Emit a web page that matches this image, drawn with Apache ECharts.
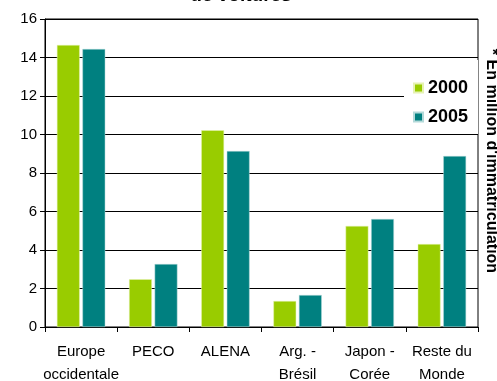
<!DOCTYPE html>
<html><head><meta charset="utf-8">
<script src="https://cdn.jsdelivr.net/npm/echarts@6/dist/echarts.min.js"></script>
<style>html,body{margin:0;padding:0;background:#fff}#c{width:497px;height:381px}</style>
</head><body><div id="c"></div>
<script>
const categories = ['Europe\noccidentale', 'PECO', 'ALENA', 'Arg. -\nBrésil', 'Japon -\nCorée', 'Reste du\nMonde'];
const seriesNames = ['2000', '2005'];
const values2000 = [14.65, 2.48, 10.22, 1.35, 5.25, 4.31];
const values2005 = [14.44, 3.27, 9.14, 1.66, 5.61, 8.88];
const yTicks = [0, 2, 4, 6, 8, 10, 12, 14, 16];
const titleText = 'de voitures';
const sideNote = "* En million d'immatriculation";

const chart = echarts.init(document.getElementById('c'), null, {renderer: 'canvas'});
const font = 'Arial, "Liberation Sans", sans-serif';
chart.setOption({
  animation: false,
  backgroundColor: '#fff',
  textStyle: {fontFamily: font},
  grid: {left: 45, right: 19, top: 19, bottom: 54, containLabel: false, outerBoundsMode: 'none',
         show: true, borderColor: '#000', borderWidth: 1, backgroundColor: 'transparent'},
  legend: {
    orient: 'vertical', left: 404, top: 60,
    data: seriesNames,
    icon: 'rect', itemWidth: 9, itemHeight: 9, itemGap: 11,
    backgroundColor: '#fff',
    padding: [19, 10, 8, 9],
    textStyle: {fontSize: 18, fontWeight: 'bold', color: '#000', fontFamily: font}
  },
  xAxis: {
    type: 'category', data: categories,
    axisLine: {show: true, lineStyle: {color: '#000'}},
    axisTick: {show: true, length: 5, lineStyle: {color: '#000'}},
    axisLabel: {fontSize: 15, color: '#000', lineHeight: 23, margin: 13, interval: 0, fontFamily: font}
  },
  yAxis: {
    type: 'value', min: yTicks[0], max: yTicks[yTicks.length - 1], interval: 2,
    axisLine: {show: true, lineStyle: {color: '#000'}},
    axisTick: {show: true, length: 5, lineStyle: {color: '#000'}},
    axisLabel: {fontSize: 15, color: '#000', margin: 8, fontFamily: font},
    splitLine: {show: true, lineStyle: {color: '#000', width: 1}}
  },
  series: [
    {name: seriesNames[0], type: 'bar', data: values2000, barGap: '12%', barCategoryGap: '33%',
     itemStyle: {color: '#99CC00', borderColor: '#e6f2b3', borderWidth: 0.5}},
    {name: seriesNames[1], type: 'bar', data: values2005,
     itemStyle: {color: '#008080', borderColor: '#b3d9d9', borderWidth: 0.5}}
  ],
  graphic: [
    {type: 'text', x: 241, y: 5, z: 100,
     style: {text: titleText, font: 'bold 19px ' + font, fill: '#000', align: 'center', verticalAlign: 'bottom'}},
    {type: 'text', x: 483, y: 161, rotation: -Math.PI / 2, z: 100,
     style: {text: sideNote, font: 'bold 16px ' + font, fill: '#000', align: 'center', verticalAlign: 'bottom'}}
  ]
});
</script></body></html>
